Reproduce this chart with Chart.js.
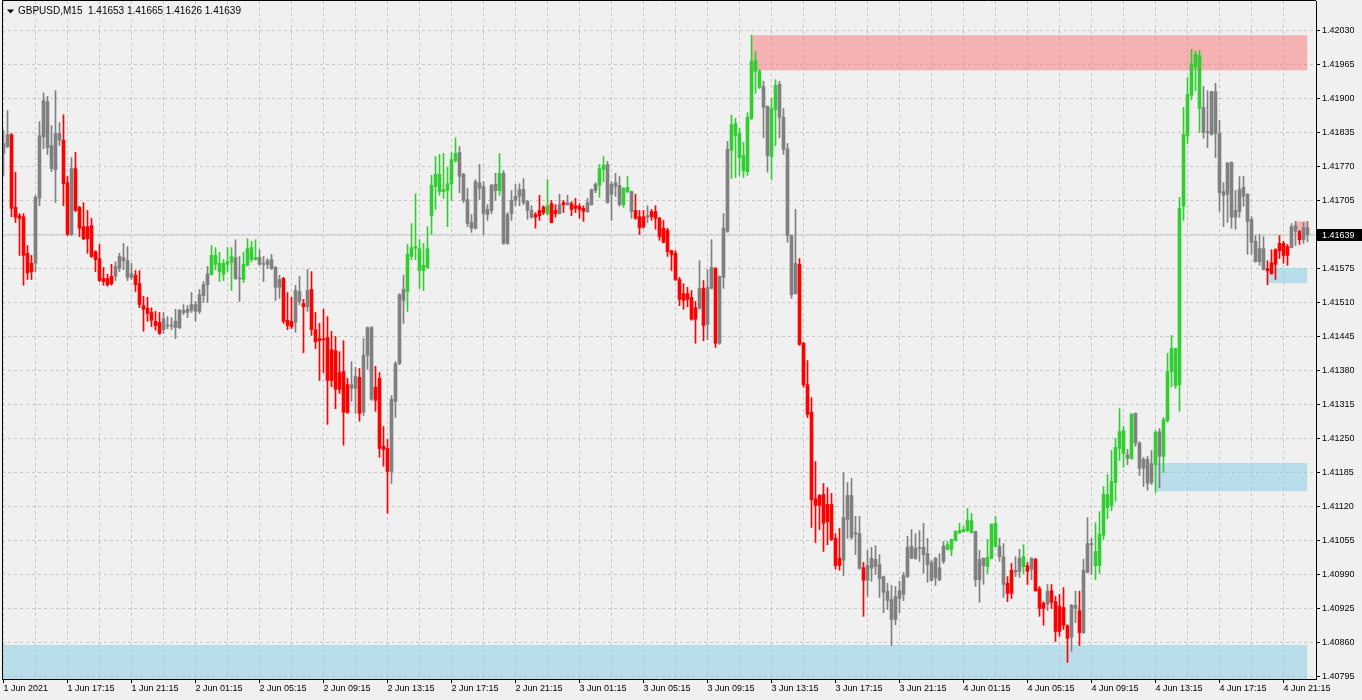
<!DOCTYPE html>
<html>
<head>
<title>GBPUSD,M15</title>
<script src="https://cdn.jsdelivr.net/npm/chart.js"></script>
<style>
  html, body { margin: 0; padding: 0; background: #f0f0f0; overflow: hidden; }
  canvas { display: block; }
</style>
</head>
<body>
<canvas id="chart" width="1362" height="700"></canvas>
<script>
const symbol = 'GBPUSD,M15';

// 15 minute bars, 1 Jun 2021 13:15 onwards
const openP = [
  1.41795,1.41808,1.41831,1.41692,1.41676,1.41674,1.41604,1.41585,1.41585,1.41709,
  1.41827,1.41894,1.41810,1.41764,1.41833,1.41820,1.41739,1.41640,1.41766,1.41692,
  1.41655,1.41655,1.41657,1.41607,1.41594,1.41556,1.41556,1.41560,1.41560,1.41575,
  1.41590,1.41590,1.41565,1.41562,1.41546,1.41504,1.41499,1.41491,1.41474,1.41472,
  1.41458,1.41466,1.41466,1.41462,1.41462,1.41491,1.41491,1.41495,1.41506,1.41493,
  1.41523,1.41544,1.41564,1.41600,1.41585,1.41564,1.41583,1.41587,1.41596,1.41556,
  1.41554,1.41581,1.41592,1.41592,1.41596,1.41584,1.41583,1.41592,1.41577,1.41539,
  1.41556,1.41476,1.41474,1.41472,1.41531,1.41508,1.41502,1.41535,1.41458,1.41441,
  1.41441,1.41443,1.41420,1.41418,1.41376,1.41378,1.41353,1.41346,1.41346,1.41367,
  1.41300,1.41409,1.41462,1.41348,1.41365,1.41235,1.41231,1.41187,1.41321,1.41393,
  1.41514,1.41531,1.41598,1.41614,1.41613,1.41571,1.41577,1.41676,1.41732,1.41755,
  1.41722,1.41724,1.41737,1.41781,1.41797,1.41755,1.41707,1.41663,1.41652,1.41739,
  1.41732,1.41678,1.41686,1.41736,1.41724,1.41757,1.41623,1.41680,1.41705,1.41713,
  1.41726,1.41703,1.41686,1.41678,1.41686,1.41692,1.41680,1.41699,1.41686,1.41680,
  1.41701,1.41697,1.41699,1.41695,1.41694,1.41690,1.41684,1.41697,1.41724,1.41734,
  1.41764,1.41774,1.41717,1.41739,1.41734,1.41697,1.41722,1.41722,1.41686,1.41674,
  1.41674,1.41673,1.41684,1.41684,1.41671,1.41652,1.41648,1.41609,1.41604,1.41554,
  1.41527,1.41527,1.41520,1.41500,1.41499,1.41537,1.41468,1.41537,1.41575,1.41432,
  1.41558,1.41646,1.41801,1.41852,1.41833,1.41791,1.41760,1.41862,1.41973,1.41952,
  1.41923,1.41885,1.41789,1.41879,1.41927,1.41864,1.41804,1.41638,1.41527,1.41583,
  1.41432,1.41353,1.41300,1.41135,1.41141,1.41143,1.41124,1.41124,1.41059,1.41021,
  1.41017,1.41095,1.41141,1.41067,1.41068,1.41003,1.40979,1.41002,1.41019,1.41009,
  1.40986,1.40958,1.40942,1.40904,1.40944,1.40952,1.40986,1.41044,1.41021,1.41040,
  1.41042,1.41030,1.41013,1.40984,1.40980,1.41015,1.41038,1.41038,1.41055,1.41070,
  1.41072,1.41074,1.41093,1.41072,1.40980,1.41021,1.41005,1.41021,1.41088,1.41044,
  1.41024,1.40973,1.40954,1.40994,1.40996,1.41005,1.41007,1.41000,1.41019,1.40963,
  1.40935,1.40933,1.40959,1.40938,1.40929,1.40927,1.40892,1.40870,1.40931,1.40921,
  1.40879,1.40994,1.41047,1.41007,1.41007,1.41065,1.41143,1.41122,1.41166,1.41231,
  1.41265,1.41219,1.41212,1.41298,1.41241,1.41193,1.41210,1.41166,1.41200,1.41263,
  1.41216,1.41284,1.41378,1.41422,1.41353,1.41694,1.41829,1.41906,1.41961,1.41982,
  1.41883,1.41835,1.41831,1.41913,1.41833,1.41722,1.41717,1.41778,1.41673,1.41684,
  1.41730,1.41717,1.41669,1.41627,1.41588,1.41613,1.41575,1.41565,1.41583,1.41609,
  1.41623,1.41600,1.41615,1.41657,1.41646,1.41630,1.41653
];
const highP = [
  1.41839,1.41877,1.41833,1.41759,1.41680,1.41680,1.41619,1.41600,1.41715,1.41856,
  1.41911,1.41904,1.41848,1.41915,1.41854,1.41869,1.41751,1.41787,1.41797,1.41694,
  1.41701,1.41686,1.41671,1.41609,1.41621,1.41577,1.41564,1.41583,1.41588,1.41604,
  1.41623,1.41617,1.41585,1.41571,1.41571,1.41522,1.41520,1.41500,1.41493,1.41491,
  1.41491,1.41483,1.41481,1.41497,1.41497,1.41506,1.41504,1.41529,1.41512,1.41535,
  1.41550,1.41579,1.41619,1.41615,1.41606,1.41592,1.41615,1.41615,1.41630,1.41598,
  1.41606,1.41632,1.41627,1.41630,1.41611,1.41598,1.41594,1.41602,1.41579,1.41562,
  1.41558,1.41529,1.41520,1.41543,1.41560,1.41516,1.41573,1.41569,1.41491,1.41470,
  1.41497,1.41483,1.41455,1.41445,1.41416,1.41437,1.41365,1.41397,1.41386,1.41384,
  1.41441,1.41463,1.41464,1.41388,1.41376,1.41273,1.41248,1.41332,1.41397,1.41527,
  1.41562,1.41621,1.41661,1.41718,1.41630,1.41623,1.41655,1.41753,1.41789,1.41793,
  1.41795,1.41768,1.41797,1.41825,1.41808,1.41757,1.41728,1.41678,1.41745,1.41774,
  1.41741,1.41697,1.41736,1.41757,1.41795,1.41762,1.41682,1.41724,1.41736,1.41737,
  1.41747,1.41705,1.41695,1.41682,1.41715,1.41695,1.41745,1.41705,1.41697,1.41717,
  1.41705,1.41715,1.41703,1.41709,1.41699,1.41695,1.41709,1.41727,1.41739,1.41774,
  1.41789,1.41780,1.41741,1.41757,1.41751,1.41730,1.41751,1.41723,1.41717,1.41686,
  1.41686,1.41695,1.41688,1.41695,1.41673,1.41667,1.41652,1.41610,1.41609,1.41558,
  1.41546,1.41539,1.41533,1.41512,1.41590,1.41552,1.41573,1.41630,1.41577,1.41561,
  1.41680,1.41818,1.41868,1.41862,1.41843,1.41816,1.41873,1.42021,1.41990,1.41956,
  1.41933,1.41886,1.41900,1.41936,1.41933,1.41881,1.41814,1.41639,1.41688,1.41594,
  1.41434,1.41399,1.41328,1.41206,1.41143,1.41164,1.41156,1.41145,1.41068,1.41078,
  1.41185,1.41166,1.41174,1.41101,1.41101,1.41013,1.41036,1.41042,1.41045,1.41028,
  1.40987,1.40973,1.40969,1.40967,1.40977,1.40994,1.41063,1.41076,1.41068,1.41074,
  1.41088,1.41059,1.41017,1.41023,1.41030,1.41053,1.41053,1.41058,1.41074,1.41088,
  1.41082,1.41116,1.41107,1.41073,1.41036,1.41022,1.41057,1.41087,1.41101,1.41059,
  1.41049,1.40986,1.41011,1.41024,1.41038,1.41047,1.41013,1.41022,1.41021,1.40967,
  1.40938,1.40971,1.40971,1.40948,1.40952,1.40965,1.40894,1.40933,1.40958,1.40958,
  1.41019,1.41099,1.41059,1.41089,1.41110,1.41158,1.41181,1.41227,1.41250,1.41307,
  1.41273,1.41229,1.41298,1.41299,1.41244,1.41214,1.41216,1.41227,1.41265,1.41269,
  1.41290,1.41413,1.41447,1.41423,1.41711,1.41883,1.41940,1.41994,1.41990,1.41992,
  1.41923,1.41915,1.41914,1.41929,1.41858,1.41739,1.41777,1.41779,1.41724,1.41751,
  1.41751,1.41718,1.41674,1.41638,1.41640,1.41636,1.41590,1.41611,1.41613,1.41638,
  1.41627,1.41621,1.41661,1.41665,1.41648,1.41663,1.41665
];
const lowP = [
  1.41753,1.41806,1.41674,1.41663,1.41600,1.41543,1.41554,1.41554,1.41569,1.41695,
  1.41804,1.41793,1.41760,1.41701,1.41810,1.41695,1.41638,1.41638,1.41684,1.41636,
  1.41630,1.41604,1.41596,1.41569,1.41550,1.41543,1.41541,1.41543,1.41552,1.41569,
  1.41573,1.41552,1.41554,1.41531,1.41500,1.41455,1.41474,1.41464,1.41457,1.41449,
  1.41451,1.41460,1.41458,1.41441,1.41460,1.41487,1.41481,1.41491,1.41474,1.41489,
  1.41510,1.41510,1.41562,1.41573,1.41550,1.41552,1.41569,1.41533,1.41554,1.41512,
  1.41548,1.41580,1.41588,1.41591,1.41581,1.41550,1.41575,1.41573,1.41514,1.41518,
  1.41470,1.41458,1.41460,1.41453,1.41506,1.41414,1.41493,1.41447,1.41422,1.41361,
  1.41376,1.41277,1.41349,1.41307,1.41336,1.41237,1.41298,1.41321,1.41298,1.41283,
  1.41294,1.41382,1.41323,1.41302,1.41214,1.41197,1.41107,1.41164,1.41290,1.41391,
  1.41470,1.41493,1.41592,1.41592,1.41537,1.41533,1.41575,1.41640,1.41688,1.41715,
  1.41709,1.41655,1.41705,1.41778,1.41720,1.41701,1.41655,1.41644,1.41650,1.41707,
  1.41640,1.41667,1.41680,1.41705,1.41715,1.41621,1.41621,1.41667,1.41695,1.41695,
  1.41697,1.41669,1.41671,1.41652,1.41667,1.41678,1.41677,1.41662,1.41673,1.41679,
  1.41682,1.41696,1.41676,1.41682,1.41671,1.41665,1.41682,1.41696,1.41720,1.41711,
  1.41741,1.41700,1.41667,1.41713,1.41694,1.41692,1.41720,1.41671,1.41669,1.41640,
  1.41652,1.41663,1.41667,1.41650,1.41629,1.41624,1.41598,1.41571,1.41552,1.41504,
  1.41497,1.41502,1.41476,1.41432,1.41497,1.41437,1.41439,1.41536,1.41424,1.41430,
  1.41537,1.41644,1.41747,1.41749,1.41753,1.41749,1.41753,1.41860,1.41910,1.41919,
  1.41825,1.41759,1.41745,1.41810,1.41825,1.41793,1.41625,1.41518,1.41526,1.41428,
  1.41348,1.41290,1.41080,1.41051,1.41076,1.41034,1.41047,1.41055,1.41000,1.40998,
  1.40988,1.41059,1.41057,1.41028,1.41000,1.40910,1.40948,1.40977,1.40990,1.40946,
  1.40917,1.40923,1.40854,1.40894,1.40917,1.40940,1.40984,1.41020,1.41019,1.41015,
  1.40992,1.40975,1.40977,1.40969,1.40978,1.41011,1.41037,1.41026,1.41054,1.41068,
  1.41071,1.41072,1.41069,1.40967,1.40937,1.40971,1.40992,1.41020,1.41043,1.41015,
  1.40946,1.40938,1.40944,1.40986,1.40984,1.40992,1.40971,1.40980,1.40958,1.40910,
  1.40893,1.40921,1.40925,1.40862,1.40872,1.40885,1.40822,1.40843,1.40898,1.40854,
  1.40877,1.40993,1.40990,1.40980,1.40992,1.41057,1.41097,1.41112,1.41130,1.41208,
  1.41195,1.41200,1.41210,1.41235,1.41179,1.41158,1.41151,1.41162,1.41147,1.41156,
  1.41185,1.41281,1.41349,1.41346,1.41302,1.41667,1.41814,1.41898,1.41915,1.41835,
  1.41824,1.41806,1.41830,1.41787,1.41684,1.41655,1.41663,1.41652,1.41650,1.41673,
  1.41694,1.41602,1.41602,1.41587,1.41581,1.41572,1.41544,1.41564,1.41554,1.41594,
  1.41585,1.41581,1.41614,1.41619,1.41621,1.41623,1.41626
];
const closeP = [
  1.41814,1.41831,1.41690,1.41673,1.41671,1.41600,1.41567,1.41569,1.41711,1.41829,
  1.41896,1.41806,1.41766,1.41833,1.41820,1.41737,1.41640,1.41766,1.41686,1.41652,
  1.41632,1.41632,1.41598,1.41592,1.41552,1.41550,1.41544,1.41546,1.41579,1.41598,
  1.41596,1.41558,1.41558,1.41544,1.41506,1.41497,1.41489,1.41476,1.41466,1.41451,
  1.41479,1.41465,1.41465,1.41474,1.41495,1.41495,1.41497,1.41506,1.41493,1.41525,
  1.41544,1.41565,1.41600,1.41583,1.41569,1.41585,1.41588,1.41598,1.41556,1.41555,
  1.41583,1.41613,1.41615,1.41596,1.41583,1.41583,1.41590,1.41575,1.41539,1.41554,
  1.41474,1.41466,1.41464,1.41533,1.41512,1.41502,1.41533,1.41458,1.41435,1.41437,
  1.41439,1.41361,1.41361,1.41344,1.41344,1.41300,1.41300,1.41353,1.41369,1.41298,
  1.41409,1.41462,1.41325,1.41323,1.41231,1.41229,1.41187,1.41325,1.41393,1.41525,
  1.41535,1.41602,1.41615,1.41617,1.41571,1.41581,1.41613,1.41734,1.41755,1.41722,
  1.41726,1.41737,1.41783,1.41795,1.41751,1.41705,1.41661,1.41652,1.41741,1.41728,
  1.41680,1.41688,1.41734,1.41724,1.41757,1.41623,1.41678,1.41705,1.41713,1.41726,
  1.41701,1.41686,1.41673,1.41673,1.41676,1.41682,1.41695,1.41663,1.41680,1.41697,
  1.41697,1.41701,1.41688,1.41690,1.41688,1.41684,1.41701,1.41726,1.41736,1.41766,
  1.41772,1.41701,1.41736,1.41732,1.41697,1.41728,1.41730,1.41684,1.41671,1.41653,
  1.41655,1.41676,1.41674,1.41671,1.41636,1.41625,1.41607,1.41602,1.41554,1.41516,
  1.41514,1.41516,1.41478,1.41478,1.41537,1.41466,1.41539,1.41577,1.41432,1.41560,
  1.41652,1.41803,1.41850,1.41829,1.41787,1.41762,1.41864,1.41971,1.41952,1.41921,
  1.41883,1.41791,1.41881,1.41925,1.41864,1.41803,1.41638,1.41525,1.41585,1.41430,
  1.41353,1.41296,1.41133,1.41122,1.41122,1.41088,1.41091,1.41057,1.41007,1.41007,
  1.41099,1.41141,1.41061,1.41070,1.41002,1.40979,1.41007,1.41021,1.41005,1.40982,
  1.40956,1.40940,1.40904,1.40948,1.40959,1.40988,1.41042,1.41021,1.41040,1.41041,
  1.41028,1.41009,1.40979,1.41021,1.41003,1.41044,1.41047,1.41057,1.41072,1.41074,
  1.41076,1.41093,1.41070,1.40980,1.41019,1.41007,1.41023,1.41086,1.41044,1.41024,
  1.40971,1.40954,1.40998,1.40998,1.41021,1.41024,1.40996,1.41021,1.40959,1.40925,
  1.40925,1.40958,1.40937,1.40881,1.40881,1.40893,1.40868,1.40931,1.40925,1.40879,
  1.40998,1.41049,1.41049,1.41034,1.41067,1.41143,1.41118,1.41168,1.41233,1.41263,
  1.41221,1.41212,1.41296,1.41241,1.41193,1.41210,1.41164,1.41202,1.41262,1.41216,
  1.41286,1.41378,1.41422,1.41351,1.41690,1.41831,1.41908,1.41965,1.41984,1.41881,
  1.41835,1.41837,1.41913,1.41833,1.41720,1.41715,1.41777,1.41673,1.41686,1.41726,
  1.41713,1.41665,1.41625,1.41588,1.41613,1.41573,1.41571,1.41586,1.41611,1.41623,
  1.41600,1.41617,1.41655,1.41646,1.41630,1.41653,1.41639
];

// candle colour state in runs: g = up (lime), r = down (red), n = neutral (grey)
const trendRuns = [
  ['n',2],['r',6],['n',7],['r',2],['n',1],['r',10],['n',5],['r',7],['n',12],['g',6],
  ['n',2],['g',4],['n',6],['r',3],['n',2],['r',1],['n',1],['r',10],['n',2],['r',1],
  ['n',3],['r',4],['n',4],['g',13],['n',10],['g',1],['n',8],['r',3],['g',1],['r',2],
  ['n',1],['r',1],['n',1],['r',4],['n',3],['g',2],['n',4],['g',2],['n',1],['r',3],
  ['n',1],['r',12],['n',1],['r',1],['n',2],['r',1],['n',3],['g',8],['n',2],['g',2],
  ['n',5],['r',11],['n',5],['r',1],['n',20],['g',7],['n',3],['g',3],['n',2],['r',2],
  ['n',2],['g',1],['r',1],['n',1],['r',3],['n',1],['r',5],['n',2],['r',1],['n',3],
  ['g',8],['n',1],['g',1],['n',5],['g',1],['n',1],['g',10],['n',16],['r',6],['n',2],
  ['r',1],['n',2]
];

// supply / demand rectangles: bar range and price range
const zoneKind   = ['supply', 'demand', 'demand', 'demand', 'supply'];
const zoneFrom   = [187, -2, 288, 316, 323];
const zoneTo     = [326, 326, 326, 326, 326];
const zoneTop    = [1.42021, 1.40855, 1.41203, 1.41576, 1.41665];
const zoneBottom = [1.41954, 1.40700, 1.41149, 1.41547, 1.41648];

// axis labels
const timeLabels = [
  '1 Jun 2021', '1 Jun 17:15', '1 Jun 21:15', '2 Jun 01:15', '2 Jun 05:15', '2 Jun 09:15',
  '2 Jun 13:15', '2 Jun 17:15', '2 Jun 21:15', '3 Jun 01:15', '3 Jun 05:15', '3 Jun 09:15',
  '3 Jun 13:15', '3 Jun 17:15', '3 Jun 21:15', '4 Jun 01:15', '4 Jun 05:15', '4 Jun 09:15',
  '4 Jun 13:15', '4 Jun 17:15', '4 Jun 21:15'
];
const priceTicks = [
  1.42030, 1.41965, 1.41900, 1.41835, 1.41770, 1.41705, 1.41640, 1.41575, 1.41510, 1.41445,
  1.41380, 1.41315, 1.41250, 1.41185, 1.41120, 1.41055, 1.40990, 1.40925, 1.40860, 1.40795
];

const FONT = "'Liberation Sans', Arial, sans-serif";
const last = openP.length - 1;
const lastClose = closeP[last];
const colorOf = { g: '#32cd32', r: '#ff0000', n: '#808080' };
const barColors = trendRuns.flatMap(([c, n]) => Array(n).fill(colorOf[c]));

const wickData = highP.map((h, i) => ({ x: i, y: [lowP[i], h] }));
const bodyData = openP.map((o, i) => ({ x: i, y: [o, closeP[i]] }));

// grid every 8 bars (2 hours), labels every 16 bars
const gridBars = [];
for (let i = 0; i <= last; i += 8) gridBars.push(i);

const zoneSets = zoneKind.map((kind, k) => ({
  type: 'line',
  data: [{ x: zoneFrom[k], y: zoneTop[k] }, { x: zoneTo[k], y: zoneTop[k] }],
  borderWidth: 0,
  borderColor: 'rgba(0,0,0,0)',
  pointRadius: 0,
  backgroundColor: kind === 'supply' ? 'rgba(250,115,115,0.5)' : 'rgba(140,205,228,0.55)',
  fill: { value: zoneBottom[k] },
  order: 10
}));

const chrome = {
  id: 'chrome',
  afterDraw(chart) {
    const { ctx, chartArea: a, scales: { y } } = chart;
    ctx.save();
    // left and top frame
    ctx.strokeStyle = '#000';
    ctx.lineWidth = 1;
    ctx.beginPath();
    ctx.moveTo(a.left + 0.5, a.bottom);
    ctx.lineTo(a.left + 0.5, a.top - 0.5);
    ctx.lineTo(a.right, a.top - 0.5);
    ctx.stroke();

    // symbol header
    ctx.fillStyle = '#000';
    ctx.beginPath();
    ctx.moveTo(7, 9.5);
    ctx.lineTo(14, 9.5);
    ctx.lineTo(10.5, 13.5);
    ctx.closePath();
    ctx.fill();
    ctx.font = '10px ' + FONT;
    ctx.textBaseline = 'middle';
    const head = symbol + '  ' + [openP[last], highP[last], lowP[last], closeP[last]]
      .map(v => v.toFixed(5)).join(' ');
    ctx.fillText(head, 18, 11.5);

    // last price tag
    const py = Math.round(y.getPixelForValue(lastClose));
    ctx.fillStyle = '#000';
    ctx.fillRect(a.right + 1, py - 6, chart.width - a.right - 1, 12);
    ctx.fillStyle = '#fff';
    ctx.font = '9px ' + FONT;
    ctx.fillText(lastClose.toFixed(5), a.right + 6, py + 0.5);
    ctx.restore();
  }
};

new Chart(document.getElementById('chart'), {
  type: 'bar',
  data: {
    datasets: [
      ...zoneSets,
      {
        type: 'line',
        data: [{ x: -2, y: lastClose }, { x: last + 4, y: lastClose }],
        borderColor: '#c8c8c8',
        borderWidth: 1,
        pointRadius: 0,
        fill: false,
        order: 9
      },
      {
        data: wickData,
        backgroundColor: barColors,
        barThickness: 1,
        grouped: false,
        order: 2
      },
      {
        data: bodyData,
        backgroundColor: barColors,
        barThickness: 3,
        minBarLength: 1,
        grouped: false,
        order: 1
      }
    ]
  },
  options: {
    responsive: false,
    animation: false,
    devicePixelRatio: 1,
    events: [],
    layout: { padding: { left: 2, top: 1, right: 0, bottom: 0 } },
    plugins: { legend: { display: false }, tooltip: { enabled: false } },
    scales: {
      x: {
        type: 'linear',
        min: -0.375,
        max: 328.125,
        offset: false,
        afterBuildTicks: s => { s.ticks = gridBars.map(v => ({ value: v })); },
        afterFit: s => { s.height = 21; s.paddingLeft = 0; s.paddingRight = 0; },
        ticks: {
          autoSkip: false,
          maxRotation: 0,
          align: 'start',
          padding: 0,
          color: '#000',
          font: { family: FONT, size: 9 },
          callback: v => (v % 16 === 0 ? timeLabels[v / 16] : '')
        },
        grid: {
          offset: false,
          color: '#c8c8c8',
          lineWidth: 1,
          tickLength: 4,
          tickBorderDash: [],
          tickColor: c => (c.tick && c.tick.value % 16 === 0 ? '#000' : 'rgba(0,0,0,0)')
        },
        border: { display: true, color: '#000', width: 1, dash: [3, 3] }
      },
      y: {
        type: 'linear',
        position: 'right',
        min: 1.407902,
        max: 1.420864,
        beginAtZero: false,
        afterBuildTicks: s => { s.ticks = priceTicks.map(v => ({ value: v })); },
        afterFit: s => { s.width = 46; s.paddingTop = 0; s.paddingBottom = 0; },
        ticks: {
          padding: 2,
          color: '#000',
          font: { family: FONT, size: 9 },
          callback: v => v.toFixed(5)
        },
        grid: {
          color: '#c8c8c8',
          lineWidth: 1,
          tickLength: 4,
          tickBorderDash: [],
          tickColor: '#000'
        },
        border: { display: true, color: '#000', width: 1, dash: [3, 3] }
      }
    }
  },
  plugins: [chrome]
});
</script>
</body>
</html>
